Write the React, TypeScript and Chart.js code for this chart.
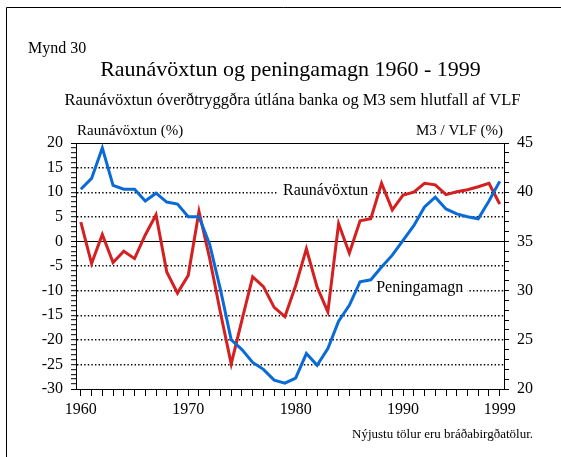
import React, { useEffect, useRef } from "react";
import { Chart, registerables } from "chart.js";

Chart.register(...registerables);

const years = [
  1960, 1961, 1962, 1963, 1964, 1965, 1966, 1967, 1968, 1969,
  1970, 1971, 1972, 1973, 1974, 1975, 1976, 1977, 1978, 1979,
  1980, 1981, 1982, 1983, 1984, 1985, 1986, 1987, 1988, 1989,
  1990, 1991, 1992, 1993, 1994, 1995, 1996, 1997, 1998, 1999,
];

// Raunávöxtun (%) – left axis
const raunavoxtun = [
  3.9, -4.5, 1.4, -4.3, -2.0, -3.5, 1.3, 5.4, -6.2, -10.5,
  -6.9, 6.1, -3.5, -14.5, -24.9, -16.0, -7.2, -9.2, -13.4, -15.3,
  -9.0, -1.5, -9.3, -14.3, 3.6, -2.4, 4.2, 4.6, 11.8, 6.4,
  9.4, 10.0, 11.8, 11.5, 9.5, 10.1, 10.5, 11.1, 11.8, 7.6,
];

// M3 / VLF (%) – right axis
const peningamagn = [
  40.3, 41.4, 44.5, 40.7, 40.3, 40.3, 39.1, 39.9, 39.0, 38.8,
  37.5, 37.5, 34.7, 30.1, 25.0, 24.0, 22.7, 22.0, 20.9, 20.6,
  21.1, 23.6, 22.4, 24.1, 26.9, 28.5, 30.9, 31.1, 32.4, 33.6,
  35.1, 36.6, 38.5, 39.5, 38.3, 37.8, 37.5, 37.3, 39.1, 41.1,
];

const xTickLabels = [1960, 1970, 1980, 1990, 1999];
const leftLabelStep = 5;
const rightLabelStep = 5;

const TITLE = "Raunávöxtun og peningamagn 1960 - 1999";
const SUBTITLE = "Raunávöxtun óverðtryggðra útlána banka og M3 sem hlutfall af VLF";
const FIG = "Mynd 30";
const LEFT_TITLE = "Raunávöxtun (%)";
const RIGHT_TITLE = "M3 / VLF (%)";
const FOOTNOTE = "Nýjustu tölur eru bráðabirgðatölur.";
const RED_LABEL = "Raunávöxtun";
const BLUE_LABEL = "Peningamagn";

const SERIF = "'Liberation Serif', 'Times New Roman', Times, serif";
const RED = "#d42020";
const BLUE = "#0a6ad6";

const isSolid = (v: number) => v === 0 || v === 20 || v === -30;

const decorPlugin = {
  id: "decor",
  beforeDraw(chart: any) {
    const ctx = chart.ctx as CanvasRenderingContext2D;
    ctx.save();
    ctx.fillStyle = "#fff";
    ctx.fillRect(0, 0, chart.width, chart.height);
    ctx.strokeStyle = "#000";
    ctx.lineWidth = 1;
    ctx.beginPath();
    ctx.moveTo(6.5, chart.height);
    ctx.lineTo(6.5, 7.5);
    ctx.lineTo(chart.width, 7.5);
    ctx.stroke();

    ctx.fillStyle = "#000";
    ctx.textBaseline = "alphabetic";
    ctx.font = `16px ${SERIF}`;
    ctx.textAlign = "left";
    ctx.fillText(FIG, 28, 53);

    ctx.font = `22px ${SERIF}`;
    ctx.textAlign = "center";
    ctx.fillText(TITLE, 290.5, 76);

    ctx.font = `16.5px ${SERIF}`;
    ctx.fillText(SUBTITLE, 292.5, 105);

    ctx.font = `15px ${SERIF}`;
    ctx.textAlign = "left";
    ctx.fillText(LEFT_TITLE, 77, 135);
    ctx.textAlign = "right";
    ctx.fillText(RIGHT_TITLE, 503, 135);

    ctx.font = `13px ${SERIF}`;
    ctx.fillText(FOOTNOTE, 533, 438);
    ctx.restore();
  },
  beforeDatasetsDraw(chart: any) {
    const ctx = chart.ctx as CanvasRenderingContext2D;
    const xs = chart.scales.x;
    const ys = chart.scales.y;
    const drawLabel = (text: string, xv: number, yv: number) => {
      const cx = xs.getPixelForValue(xv);
      const by = ys.getPixelForValue(yv);
      ctx.save();
      ctx.font = `16px ${SERIF}`;
      const w = ctx.measureText(text).width;
      ctx.fillStyle = "#fff";
      ctx.fillRect(cx - w / 2 - 6, by - 15, w + 10, 20);
      ctx.fillStyle = "#000";
      ctx.textAlign = "center";
      ctx.textBaseline = "alphabetic";
      ctx.fillText(text, cx, by);
      ctx.restore();
    };
    drawLabel(RED_LABEL, 1982.8, 9.45);
    drawLabel(BLUE_LABEL, 1991.55, -10.2);
  },
};

export default function App() {
  const ref = useRef<HTMLCanvasElement | null>(null);

  useEffect(() => {
    if (!ref.current) return;
    const chart = new Chart(ref.current, {
      type: "line",
      data: {
        datasets: [
          {
            label: BLUE_LABEL,
            data: years.map((yr, i) => ({ x: yr, y: peningamagn[i] })),
            borderColor: BLUE,
            borderWidth: 3,
            pointRadius: 0,
            tension: 0,
            yAxisID: "y1",
          },
          {
            label: RED_LABEL,
            data: years.map((yr, i) => ({ x: yr, y: raunavoxtun[i] })),
            borderColor: RED,
            borderWidth: 3,
            pointRadius: 0,
            tension: 0,
            yAxisID: "y",
          },
        ],
      },
      options: {
        responsive: false,
        maintainAspectRatio: false,
        animation: false,
        devicePixelRatio: 1,
        layout: { padding: { top: 143, left: 0, right: 0, bottom: 0 } },
        plugins: {
          legend: { display: false },
          tooltip: { enabled: false },
          title: { display: false },
        },
        scales: {
          x: {
            type: "linear",
            min: 1959.55,
            max: 1999.4,
            afterFit: (s: any) => {
              s.height = 68;
            },
            afterBuildTicks: (s: any) => {
              s.ticks = years.map((v) => ({ value: v }));
            },
            grid: {
              drawOnChartArea: false,
              drawTicks: true,
              tickLength: 7,
              color: "#000",
              tickColor: "#000",
              tickWidth: 1,
            },
            border: { display: true, color: "#000", width: 1 },
            ticks: {
              autoSkip: false,
              maxRotation: 0,
              minRotation: 0,
              padding: 4,
              color: "#000",
              font: { family: SERIF, size: 16 },
              callback: (v: any) => (xTickLabels.includes(Number(v)) ? String(v) : ""),
            },
          },
          y: {
            type: "linear",
            position: "left",
            min: -30,
            max: 20,
            afterFit: (s: any) => {
              s.width = 76;
            },
            grid: {
              drawOnChartArea: true,
              drawTicks: true,
              tickLength: 5,
              tickColor: "#000",
              tickWidth: 1,
              color: (c: any) =>
                c.tick && c.tick.value % 5 === 0 ? "#000" : "rgba(0,0,0,0)",
              lineWidth: (c: any) => (c.tick && isSolid(c.tick.value) ? 1 : 1.4),
            },
            border: {
              display: true,
              color: "#000",
              width: 1,
              dash: (c: any) =>
                c.tick && !isSolid(c.tick.value) ? [1.4, 2.2] : [],
            },
            ticks: {
              stepSize: 1,
              autoSkip: false,
              padding: 8,
              color: "#000",
              font: { family: SERIF, size: 16 },
              callback: (v: any) =>
                Number(v) % leftLabelStep === 0 ? String(v) : "",
            },
          },
          y1: {
            type: "linear",
            position: "right",
            min: 20,
            max: 45,
            afterFit: (s: any) => {
              s.width = 57;
            },
            grid: {
              drawOnChartArea: false,
              drawTicks: true,
              tickLength: 5,
              color: "#000",
              tickColor: "#000",
              tickWidth: 1,
            },
            border: { display: true, color: "#000", width: 1 },
            ticks: {
              stepSize: 1,
              autoSkip: false,
              padding: 8,
              color: "#000",
              font: { family: SERIF, size: 16 },
              callback: (v: any) =>
                Number(v) % rightLabelStep === 0 ? String(v) : "",
            },
          },
        },
      },
      plugins: [decorPlugin],
    } as any);
    return () => chart.destroy();
  }, []);

  return (
    <div
      style={{
        position: "fixed",
        left: 0,
        top: 0,
        width: 561,
        height: 457,
        background: "#fff",
      }}
    >
      <canvas
        ref={ref}
        width={561}
        height={457}
        style={{ display: "block", width: 561, height: 457 }}
      />
    </div>
  );
}
